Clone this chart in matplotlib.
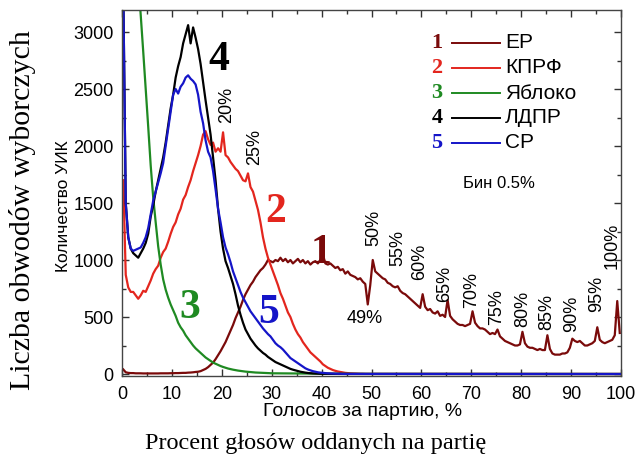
import matplotlib
matplotlib.use("Agg")
import matplotlib.pyplot as plt
from matplotlib.ticker import MultipleLocator
from matplotlib.lines import Line2D

# ---------------- data (0.5 % bins) ----------------
bin_x = [0.25 + 0.5 * i for i in range(200)]

er_vals = [
    40, 15, 10, 8, 8, 6, 6, 6, 5, 5, 5, 5, 5, 5, 5, 6, 6, 6, 6, 7,
    7, 8, 8, 9, 10, 10, 12, 13, 15, 18,
    20, 25, 35, 45, 60, 80, 100, 130, 165, 200,
    240, 280, 330, 380, 430, 490, 540, 590, 650, 700,
    740, 780, 810, 850, 880, 910, 930, 960, 1000, 990,
    980, 1000, 990, 1020, 990, 1010, 980, 1000, 970, 990,
    1010, 980, 1000, 970, 990, 960, 980, 990, 970, 1000,
    1050, 970, 960, 970, 950, 930, 940, 910, 920, 880,
    900, 870, 860, 850, 830, 840, 810, 790, 610, 780,
    1000, 900, 880, 860, 840, 830, 800, 790, 770, 760,
    770, 730, 710, 700, 680, 660, 640, 620, 600, 580,
    700, 590, 560, 570, 540, 530, 550, 510, 520, 500,
    650, 510, 480, 460, 440, 430, 430, 420, 430, 440,
    550, 450, 420, 400, 400, 390, 370, 350, 360, 350,
    390, 330, 310, 290, 280, 270, 260, 250, 250, 260,
    370, 270, 240, 230, 230, 220, 210, 220, 210, 210,
    340, 220, 180, 170, 170, 170, 180, 180, 190, 230,
    310, 290, 280, 290, 270, 250, 250, 260, 270, 290,
    410, 300, 280, 270, 280, 290, 300, 340, 640, 360,
]

kprf_x = [0.25 + 0.5 * i for i in range(100)] + [100]
kprf_vals = [
    1700, 870, 760, 720, 720, 690, 660, 690, 730, 720,
    770, 820, 880, 920, 950, 1020, 1070, 1100, 1160, 1230,
    1290, 1330, 1400, 1450, 1530, 1570, 1640, 1700, 1780, 1850,
    1920, 2000, 2100, 2130, 2060, 2010, 2030, 1950, 1980, 1950,
    2120, 1920, 1900, 1860, 1830, 1800, 1780, 1740, 1700, 1690,
    1760, 1640, 1600, 1520, 1440, 1330, 1200, 1100, 1020, 960,
    900, 840, 780, 710, 660, 600, 540, 500, 440, 390,
    350, 320, 280, 250, 220, 190, 170, 150, 130, 110,
    85, 70, 55, 45, 35, 28, 22, 18, 14, 10,
    8, 6, 5, 4, 3, 2, 2, 1, 1, 1,
    0,
]

yabloko_x = [0.25 + 0.5 * i for i in range(62)] + [40, 50, 100]
yabloko_vals = [
    8000, 6500, 5600, 5000, 4400, 3900, 3450, 3150, 2830, 2500,
    2170, 1830, 1550, 1330, 1120, 960, 830, 740, 670, 610,
    560, 510, 450, 410, 380, 340, 310, 280, 250, 225,
    205, 185, 165, 145, 130, 115, 100, 90, 80, 70,
    62, 55, 48, 43, 38, 34, 30, 27, 24, 21,
    19, 17, 15, 13, 12, 11, 10, 9, 8, 7,
    6, 6,
    3, 1, 0,
]

ldpr_x = [0.25 + 0.5 * i for i in range(80)] + [45, 100]
ldpr_vals = [
    3400, 1500, 1200, 1100, 1060, 1040, 1020, 1060, 1100, 1150,
    1230, 1380, 1480, 1600, 1700, 1800, 1900, 2030, 2180, 2330,
    2450, 2600, 2700, 2780, 2900, 2980, 3060, 2900, 3040, 2950,
    2850, 2720, 2560, 2400, 2250, 2100, 1900, 1700, 1450, 1250,
    1100, 990, 930, 860, 790, 700, 600, 520, 450, 390,
    350, 310, 280, 250, 225, 205, 185, 170, 150, 135,
    120, 105, 95, 85, 75, 65, 55, 45, 38, 32,
    26, 20, 16, 12, 9, 7, 5, 4, 3, 2,
    0, 0,
]

sr_x = [0.25 + 0.5 * i for i in range(92)] + [100]
sr_vals = [
    3400, 1500, 1200, 1100, 1080, 1090, 1100, 1110, 1150, 1200,
    1280, 1400, 1520, 1600, 1680, 1760, 1850, 2000, 2150, 2300,
    2450, 2500, 2460, 2520, 2550, 2600, 2620, 2590, 2570, 2540,
    2450, 2300, 2200, 2050, 1950, 1900, 1780, 1620, 1450, 1330,
    1200, 1110, 1050, 980, 900, 840, 780, 720, 670, 630,
    590, 550, 520, 490, 460, 430, 400, 375, 350, 330,
    300, 270, 250, 235, 215, 190, 165, 140, 125, 110,
    95, 80, 65, 50, 40, 32, 25, 20, 15, 12,
    10, 8, 6, 5, 4, 3, 2, 2, 1, 1,
    1, 1,
    0,
]

series_names = ["ЕР", "КПРФ", "Яблоко", "ЛДПР", "СР"]
series_nums = ["1", "2", "3", "4", "5"]
series_colors = ["#7a0a0a", "#e3261e", "#1f8a22", "#000000", "#1515c8"]

pct_labels = ["20%", "25%", "50%", "55%", "60%", "65%", "70%", "75%",
              "80%", "85%", "90%", "95%", "100%"]
pct_label_x = [21.0, 26.6, 50.5, 55.3, 59.7, 64.7, 70.0, 75.0,
               80.4, 85.2, 90.2, 95.2, 98.2]
pct_label_y = [2360, 1990, 1280, 1105, 980, 790, 737, 590,
               570, 545, 525, 700, 1120]

# ---------------- figure ----------------
SANS = ["Liberation Sans", "DejaVu Sans"]
SERIF = ["Liberation Serif", "DejaVu Serif"]
plt.rcParams["font.family"] = SANS

fig = plt.figure(figsize=(6.37, 4.63), dpi=100)
ax = fig.add_axes([122 / 637, (463 - 376) / 463, 499 / 637, 366 / 463])

lw = 1.6
ax.plot(bin_x, er_vals, color=series_colors[0], lw=lw)
ax.plot(kprf_x, kprf_vals, color=series_colors[1], lw=lw)
ax.plot(yabloko_x, yabloko_vals, color=series_colors[2], lw=lw)
ax.plot(ldpr_x, ldpr_vals, color=series_colors[3], lw=lw)
ax.plot(sr_x, sr_vals, color=series_colors[4], lw=lw)

ax.set_xlim(0, 100)
ax.set_ylim(-17.5, 3193)
ax.xaxis.set_major_locator(MultipleLocator(10))
ax.xaxis.set_minor_locator(MultipleLocator(5))
ax.yaxis.set_major_locator(MultipleLocator(500))
ax.yaxis.set_minor_locator(MultipleLocator(250))
ax.tick_params(which="both", direction="in", top=True, right=True,
               labelsize=13, color="#333333")
ax.tick_params(which="major", length=5, width=1)
ax.tick_params(which="minor", length=3, width=1)
ax.tick_params(axis="x", pad=7)
ax.tick_params(axis="y", pad=6)
for s in ax.spines.values():
    s.set_color("#444444")
    s.set_linewidth(1.0)

# percent annotations
for t, x, y in zip(pct_labels, pct_label_x, pct_label_y):
    ax.text(x, y, t, rotation=90, ha="center", va="center", fontsize=13,
            family=SANS)
ax.text(48.7, 490, "49%", ha="center", va="center", fontsize=13, family=SANS)

# big curve numbers
num_pos = [(39.9, 974), (30.7, 1333), (13.6, 491), (19.4, 2667), (29.3, 447)]
for n, c, (x, y) in zip(series_nums, series_colors, num_pos):
    ax.text(x, y, n, color=c, fontsize=30, fontweight="bold", family=SERIF,
            ha="center", va="baseline")

# legend (manual)
row_y = [0.910, 0.842, 0.773, 0.705, 0.637]
for n, name, c, y in zip(series_nums, series_names, series_colors, row_y):
    ax.text(0.631, y, n, transform=ax.transAxes, color=c, fontsize=16,
            fontweight="bold", family=SERIF, ha="center", va="center")
    ax.add_line(Line2D([0.661, 0.758], [y, y], transform=ax.transAxes,
                       color=c, lw=1.4))
    ax.text(0.768, y, name, transform=ax.transAxes, fontsize=15,
            family=SANS, ha="left", va="center")
ax.text(0.683, 0.527, "Бин 0.5%", transform=ax.transAxes, fontsize=12,
        family=SANS, ha="left", va="center")

# axis labels
fig.text(363 / 637, 1 - 411 / 463, "Голосов за партию, %", fontsize=14,
         family=SANS, ha="center", va="center")
fig.text(316 / 637, 1 - 443 / 463, "Procent głosów oddanych na partię",
         fontsize=17.5, family=SERIF, ha="center", va="center")
fig.text(63 / 637, 1 - 206 / 463, "Количество УИК", fontsize=12.5,
         family=SANS, rotation=90, ha="center", va="center")
fig.text(23 / 637, 1 - 210 / 463, "Liczba obwodów wyborczych",
         fontsize=21.5, family=SERIF, rotation=90, ha="center", va="center")

fig.savefig("out.png", dpi=100)
